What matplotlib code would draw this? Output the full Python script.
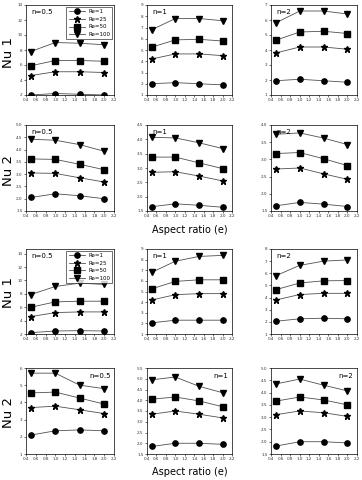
import matplotlib
matplotlib.use('Agg')
import matplotlib.pyplot as plt
import numpy as np

# x values
aspect = [0.5, 1.0, 1.5, 2.0]
re_labels = ['Re=1', 'Re=25', 'Re=50', 'Re=100']
n_labels = ['n=0.5', 'n=1', 'n=2']

# case A (rows 1-2)
a_nu1_n05 = [[2.0, 2.2, 2.1, 2.0], [4.6, 5.1, 5.1, 5.0], [5.9, 6.6, 6.6, 6.5], [7.8, 9.0, 8.9, 8.7]]
a_nu1_n1 = [[2.0, 2.1, 2.0, 1.9], [4.2, 4.65, 4.65, 4.5], [5.25, 5.9, 5.95, 5.8], [6.8, 7.8, 7.8, 7.6]]
a_nu1_n2 = [[1.95, 2.05, 1.95, 1.85], [3.8, 4.2, 4.2, 4.05], [4.65, 5.2, 5.25, 5.1], [5.8, 6.6, 6.6, 6.4]]
a_nu2_n05 = [[2.05, 2.2, 2.12, 2.0], [3.05, 3.03, 2.85, 2.68], [3.62, 3.6, 3.4, 3.18], [4.42, 4.38, 4.2, 3.93]]
a_nu2_n1 = [[1.65, 1.75, 1.7, 1.63], [2.85, 2.87, 2.72, 2.55], [3.38, 3.38, 3.18, 2.98], [4.07, 4.05, 3.88, 3.68]]
a_nu2_n2 = [[1.65, 1.75, 1.7, 1.63], [2.72, 2.75, 2.58, 2.42], [3.17, 3.2, 3.02, 2.82], [3.73, 3.77, 3.62, 3.43]]

# case B (rows 3-4)
b_nu1_n05 = [[2.2, 2.45, 2.5, 2.45], [4.6, 5.2, 5.3, 5.3], [6.0, 6.8, 6.9, 6.9], [7.9, 9.1, 9.6, 9.4]]
b_nu1_n1 = [[2.05, 2.3, 2.3, 2.3], [4.2, 4.7, 4.8, 4.8], [5.25, 5.95, 6.1, 6.1], [6.8, 7.85, 8.3, 8.4]]
b_nu1_n2 = [[2.05, 2.25, 2.3, 2.25], [3.8, 4.25, 4.35, 4.35], [4.65, 5.2, 5.38, 5.4], [5.8, 6.65, 7.0, 7.1]]
b_nu2_n05 = [[2.1, 2.35, 2.4, 2.35], [3.7, 3.78, 3.57, 3.35], [4.55, 4.6, 4.25, 3.9], [5.7, 5.7, 5.0, 4.8]]
b_nu2_n1 = [[1.85, 2.0, 2.0, 1.95], [3.35, 3.5, 3.35, 3.18], [4.05, 4.15, 3.97, 3.7], [4.95, 5.08, 4.65, 4.35]]
b_nu2_n2 = [[1.82, 2.0, 2.0, 1.95], [3.1, 3.25, 3.18, 3.03], [3.65, 3.82, 3.7, 3.5], [4.35, 4.55, 4.3, 4.07]]

rows = [[a_nu1_n05, a_nu1_n1, a_nu1_n2],
        [a_nu2_n05, a_nu2_n1, a_nu2_n2],
        [b_nu1_n05, b_nu1_n1, b_nu1_n2],
        [b_nu2_n05, b_nu2_n1, b_nu2_n2]]

ylims = [[(2, 14, 2), (1, 9, 1), (1, 7, 1)],
         [(1.5, 5.0, 0.5), (1.5, 4.5, 0.5), (1.5, 4.0, 0.5)],
         [(2, 14.7, 2), (1, 9, 1), (1, 8, 1)],
         [(1, 6, 1), (1.5, 5.5, 0.5), (1.5, 5.0, 0.5)]]

markers = ['o', '*', 's', 'v']
msizes = [3.8, 4.5, 3.8, 4.0]

W, H = 362, 480
fig = plt.figure(figsize=(W / 100, H / 100), dpi=100)

cols_px = [(26, 114), (147, 232), (271, 357)]
rows_px = [(5, 95), (125, 211), (249, 334), (368, 454)]

for r in range(4):
    for c in range(3):
        x0, x1 = cols_px[c]
        y0, y1 = rows_px[r]
        ax = fig.add_axes([x0 / W, 1 - y1 / H, (x1 - x0) / W, (y1 - y0) / H])
        for k in range(4):
            ax.plot(aspect, rows[r][c][k], color='#505050', lw=0.6,
                    marker=markers[k], ms=msizes[k], mfc='black', mec='black',
                    label=re_labels[k])
        lo, hi, st = ylims[r][c]
        ax.set_ylim(lo, hi)
        ax.set_yticks(np.arange(lo, hi + 1e-6, st))
        if st < 1:
            ax.set_yticklabels(['%.1f' % v for v in np.arange(lo, hi + 1e-6, st)])
        ax.set_xlim(0.4, 2.2)
        ax.set_xticks(np.arange(0.4, 2.21, 0.2))
        ax.set_xticklabels(['%.1f' % v for v in np.arange(0.4, 2.21, 0.2)])
        ax.tick_params(labelsize=3, length=1.5, width=0.4, pad=1, labelcolor='#333333')
        for s in ax.spines.values():
            s.set_linewidth(0.5)
        if r == 3:
            ax.text(0.96, 0.94, n_labels[c], transform=ax.transAxes,
                    ha='right', va='top', fontsize=5)
        else:
            ax.text(0.06, 0.95, n_labels[c], transform=ax.transAxes,
                    ha='left', va='top', fontsize=5)
        if c == 0 and r in (0, 2):
            ax.legend(loc='upper right', fontsize=4, frameon=True, fancybox=False,
                      edgecolor='black', handlelength=3, borderpad=0.4,
                      labelspacing=0.5, handletextpad=0.5, borderaxespad=0.3
                      ).get_frame().set_linewidth(0.5)

# axis titles
fig.text(9 / W, 1 - 52 / H, 'Nu 1', rotation=90, ha='center', va='center', fontsize=9.5)
fig.text(9 / W, 1 - 170 / H, 'Nu 2', rotation=90, ha='center', va='center', fontsize=9.5)
fig.text(9 / W, 1 - 292 / H, 'Nu 1', rotation=90, ha='center', va='center', fontsize=9.5)
fig.text(9 / W, 1 - 412 / H, 'Nu 2', rotation=90, ha='center', va='center', fontsize=9.5)
fig.text(190 / W, 1 - 230 / H, 'Aspect ratio (e)', ha='center', va='center', fontsize=7)
fig.text(190 / W, 1 - 472 / H, 'Aspect ratio (e)', ha='center', va='center', fontsize=7)

fig.savefig('out.png', dpi=100)
